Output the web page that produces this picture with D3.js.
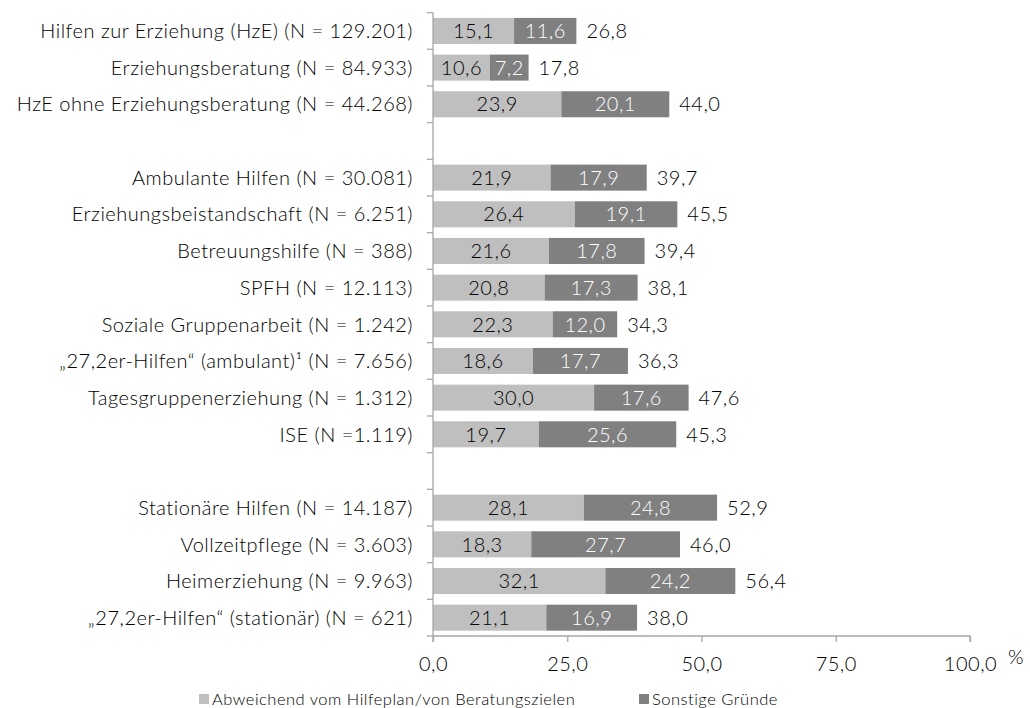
<!DOCTYPE html>
<html><head><meta charset="utf-8">
<script src="https://cdn.jsdelivr.net/npm/d3@7"></script>
<style>
html,body{margin:0;padding:0;background:#fff;}
svg{display:block;font-family:Lato, "Open Sans", sans-serif;font-weight:300;letter-spacing:0.5px;}
</style></head>
<body>
<svg id="chart" width="1030" height="708"></svg>
<script>
const categories = [
  "Hilfen zur Erziehung (HzE) (N = 129.201)",
  "Erziehungsberatung (N = 84.933)",
  "HzE ohne Erziehungsberatung (N = 44.268)",
  "",
  "Ambulante Hilfen (N = 30.081)",
  "Erziehungsbeistandschaft (N = 6.251)",
  "Betreuungshilfe (N = 388)",
  "SPFH (N = 12.113)",
  "Soziale Gruppenarbeit (N = 1.242)",
  "„27,2er-Hilfen“ (ambulant)¹ (N = 7.656)",
  "Tagesgruppenerziehung (N = 1.312)",
  "ISE (N =1.119)",
  " ",
  "Stationäre Hilfen (N = 14.187)",
  "Vollzeitpflege (N = 3.603)",
  "Heimerziehung (N = 9.963)",
  "„27,2er-Hilfen“ (stationär) (N = 621)"
];
const abweichend = [15.1,10.6,23.9,null,21.9,26.4,21.6,20.8,22.3,18.6,30.0,19.7,null,28.1,18.3,32.1,21.1];
const sonstige   = [11.6,7.2,20.1,null,17.9,19.1,17.8,17.3,12.0,17.7,17.6,25.6,null,24.8,27.7,24.2,16.9];
const totals     = [26.8,17.8,44.0,null,39.7,45.5,39.4,38.1,34.3,36.3,47.6,45.3,null,52.9,46.0,56.4,38.0];
const xTicks = [0,25,50,75,100];
const seriesNames = ["Abweichend vom Hilfeplan/von Beratungszielen","Sonstige Gründe"];
const colors = ["#bfbfbf","#808080"];

const fmt = v => d3.format(".1f")(v).replace(".", ",");
const svg = d3.select("#chart");
const mLeft = 433, mRight = 970, mTop = 12.6, mBottom = 636;

const x = d3.scaleLinear().domain([0,100]).range([mLeft,mRight]);
const y = d3.scaleBand().domain(categories).range([mTop,mBottom]).paddingInner(0.29).paddingOuter(0.145);
const yStep = y.step();

const rows = categories.map((c,i)=>({c,i,a:abweichend[i],s:sonstige[i],t:totals[i]})).filter(d=>d.a!=null);

// bars
const g = svg.append("g");
g.selectAll("rect.a").data(rows).join("rect").attr("class","a")
  .attr("x",x(0)).attr("y",d=>y(d.c)).attr("width",d=>x(d.a)-x(0)).attr("height",y.bandwidth())
  .attr("fill",colors[0]);
g.selectAll("rect.s").data(rows).join("rect").attr("class","s")
  .attr("x",d=>x(d.a)).attr("y",d=>y(d.c)).attr("width",d=>x(d.a+d.s)-x(d.a)).attr("height",y.bandwidth())
  .attr("fill",colors[1]);

const fs = 20;
const txt = "#000";
g.selectAll("text.a").data(rows).join("text").attr("class","a")
  .attr("x",d=>(x(0)+x(d.a))/2).attr("y",d=>y(d.c)+y.bandwidth()/2).attr("dy","0.36em")
  .attr("text-anchor","middle").attr("font-size",fs).attr("fill",txt).text(d=>fmt(d.a));
g.selectAll("text.s").data(rows).join("text").attr("class","s")
  .attr("x",d=>(x(d.a)+x(d.a+d.s))/2).attr("y",d=>y(d.c)+y.bandwidth()/2).attr("dy","0.36em")
  .attr("text-anchor","middle").attr("font-size",fs).attr("fill","#ffffff").text(d=>fmt(d.s));
g.selectAll("text.t").data(rows).join("text").attr("class","t")
  .attr("x",d=>x(d.a+d.s)+10).attr("y",d=>y(d.c)+y.bandwidth()/2).attr("dy","0.36em")
  .attr("text-anchor","start").attr("font-size",fs).attr("fill",txt).text(d=>fmt(d.t));

// y axis
const axisColor = "#a6a6a6";
svg.append("line").attr("x1",mLeft).attr("x2",mLeft).attr("y1",mTop).attr("y2",mBottom).attr("stroke",axisColor).attr("stroke-width",1.3);
const boundaries = d3.range(categories.length+1).map(i=>mTop+i*yStep);
svg.selectAll("line.yt").data(boundaries).join("line").attr("class","yt")
  .attr("x1",mLeft-6).attr("x2",mLeft).attr("y1",d=>d).attr("y2",d=>d).attr("stroke",axisColor).attr("stroke-width",1.3);
svg.selectAll("text.yl").data(categories.filter(c=>c.trim()!=="")).join("text").attr("class","yl")
  .attr("x",mLeft-20).attr("y",d=>y(d)+y.bandwidth()/2).attr("dy","0.36em")
  .attr("text-anchor","end").attr("font-size",fs).attr("fill",txt).text(d=>d);

// x axis
const xAxis = d3.axisBottom(x).tickValues(xTicks).tickSize(6).tickFormat(fmt);
const xg = svg.append("g").attr("transform",`translate(0,${mBottom})`).call(xAxis)
  .attr("font-family",null).attr("font-size",null);
xg.select(".domain").attr("stroke",axisColor).attr("stroke-width",1.3).attr("d",`M${mLeft},6V0H${mRight}V6`);
xg.selectAll(".tick line").attr("stroke",axisColor).attr("stroke-width",1.3);
xg.selectAll(".tick text").attr("font-size",fs).attr("fill",txt).attr("y",21);
svg.append("text").attr("x",1008).attr("y",mBottom+28).attr("font-size",fs).attr("fill",txt).text("%");

// legend
const legX = [199,639];
const leg = svg.selectAll("g.leg").data(seriesNames).join("g").attr("class","leg")
  .attr("transform",(d,i)=>`translate(${legX[i]},699)`);
leg.append("rect").attr("x",0).attr("y",-5).attr("width",10).attr("height",10).attr("fill",(d,i)=>colors[i]);
leg.append("text").attr("x",13).attr("y",0).attr("dy","0.36em").attr("font-size",16.5).attr("fill",txt).text(d=>d);
</script>
</body></html>
